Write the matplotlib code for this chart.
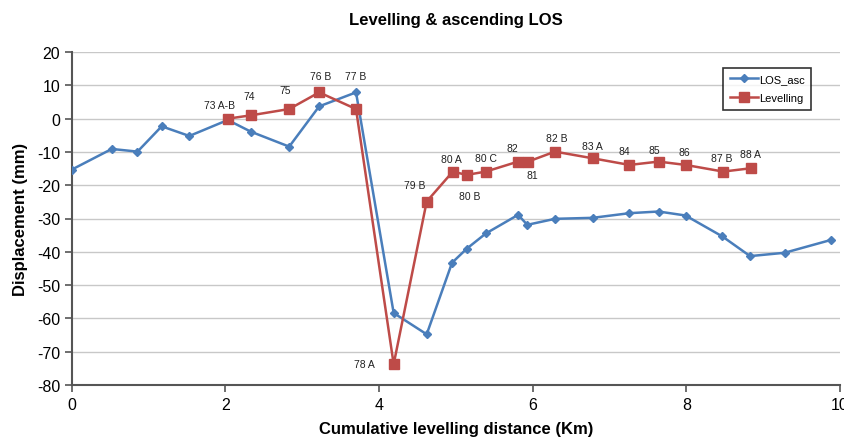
import matplotlib
matplotlib.use('Agg')
import matplotlib.pyplot as plt

plt.rcParams['font.family'] = ['Liberation Sans', 'DejaVu Sans']
plt.rcParams['axes.unicode_minus'] = False

# LOS ascending (blue)
los_x = [0.0, 0.52, 0.855, 1.17, 1.53, 2.03, 2.33, 2.83, 3.22, 3.70, 4.19, 4.62,
         4.95, 5.14, 5.39, 5.81, 5.93, 6.29, 6.78, 7.26, 7.64, 7.99, 8.47, 8.83, 9.28, 9.89]
los_y = [-15.3, -9.1, -9.9, -2.3, -5.2, -0.4, -3.9, -8.4, 3.7, 7.9, -58.4, -64.8,
         -43.3, -39.1, -34.5, -28.9, -31.9, -30.1, -29.8, -28.4, -27.9, -29.1, -35.4, -41.3, -40.3, -36.4]

# Levelling (red)
lev_x = [2.03, 2.33, 2.83, 3.22, 3.70, 4.19, 4.62, 4.96, 5.14, 5.39, 5.81, 5.94,
         6.29, 6.78, 7.26, 7.64, 7.99, 8.48, 8.84]
lev_y = [0.0, 1.0, 2.9, 7.9, 2.9, -73.8, -24.9, -15.9, -16.9, -15.9, -12.9, -12.9,
         -9.9, -11.9, -13.9, -12.9, -13.9, -15.9, -14.9]
lev_labels = ['73 A-B', '74', '75', '76 B', '77 B', '78 A', '79 B', '80 A', '80 B', '80 C',
              '82', '81', '82 B', '83 A', '84', '85', '86', '87 B', '88 A']
# label offsets in points (dx, dy)
lab_off = [(-6, 10), (-1, 14), (-3, 14), (1, 12), (0, 24), (-21, 0), (-9, 12), (-1, 9),
           (2, -15), (0, 10), (-4, 10), (3, -10), (1, 10), (0, 9), (-4, 10), (-3, 8),
           (-1, 9), (-1, 10), (0, 10)]

fig = plt.figure(figsize=(8.45, 4.39), dpi=100)
ax = fig.add_axes([0.085, 0.121, 0.909, 0.758])

blue = '#4a7ebb'
red = '#be4b48'
ax.plot(los_x, los_y, color=blue, marker='D', markersize=4.5, linewidth=1.8, label='LOS_asc', zorder=3)
ax.plot(lev_x, lev_y, color=red, marker='s', markersize=7, linewidth=1.8, label='Levelling', zorder=4)

for x, y, t, (dx, dy) in zip(lev_x, lev_y, lev_labels, lab_off):
    ax.annotate(t, (x, y), xytext=(dx, dy), textcoords='offset points',
                ha='center', va='center', fontsize=7.5, color='#222222')

ax.set_xlim(0, 10)
ax.set_ylim(-80, 20)
ax.set_xticks(range(0, 11, 2))
ax.set_yticks(range(-80, 21, 10))
ax.yaxis.grid(True, color='#c8c8c8', linewidth=1)
ax.set_axisbelow(True)
for s in ['top', 'right']:
    ax.spines[s].set_visible(False)
for s in ['left', 'bottom']:
    ax.spines[s].set_color('#555555')
    ax.spines[s].set_linewidth(1.5)
ax.tick_params(labelsize=11.5, color='#555555', length=5, width=1.2)

ax.set_title('Levelling & ascending LOS', fontsize=12, fontweight='bold', pad=20)
ax.set_xlabel('Cumulative levelling distance (Km)', fontsize=12, fontweight='bold', labelpad=7)
ax.set_ylabel('Displacement (mm)', fontsize=12, fontweight='bold', labelpad=6)

leg = ax.legend(loc='upper right', bbox_to_anchor=(0.97, 0.97), fontsize=8, fancybox=False,
                handlelength=2.5, handletextpad=0.1, borderpad=0.6, labelspacing=0.8)
leg.get_frame().set_edgecolor('black')
leg.get_frame().set_linewidth(1.2)

fig.savefig('out.png', dpi=100)
